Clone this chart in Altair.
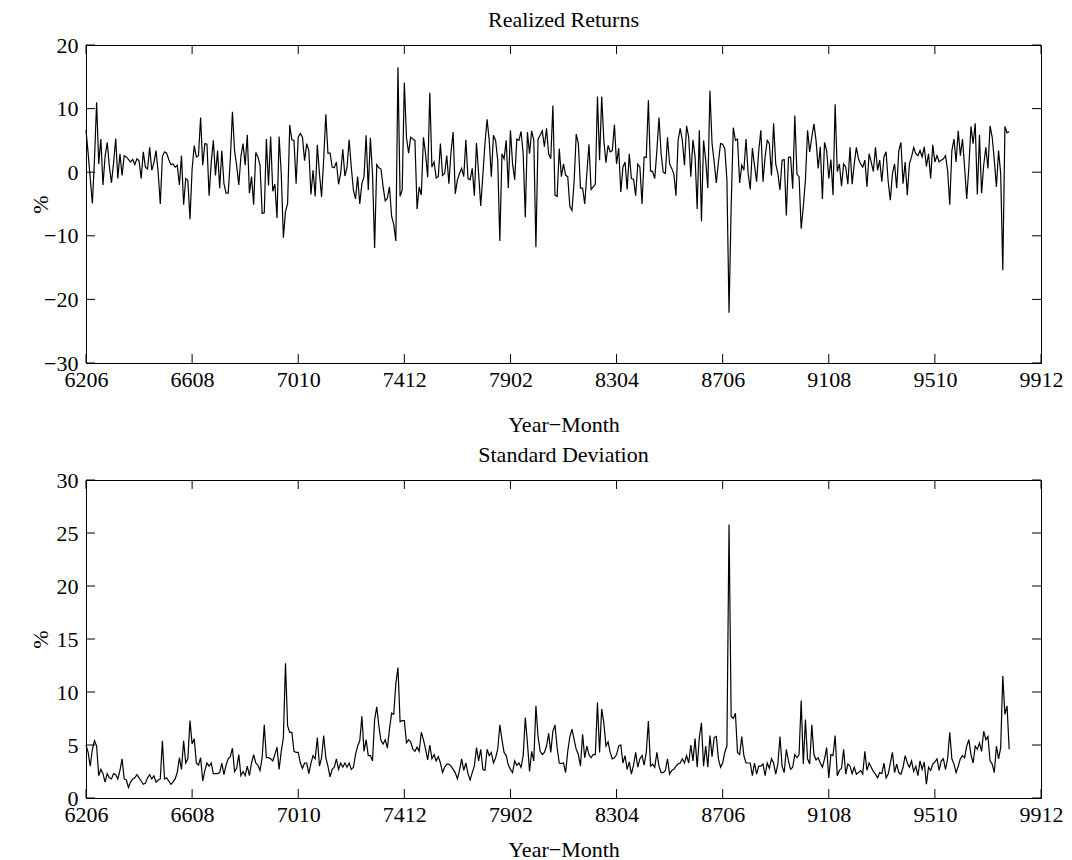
import altair as alt
import pandas as pd

tick_labels = ['6206', '6608', '7010', '7412', '7902', '8304', '8706', '9108', '9510', '9912']
tick_pos = [0, 50, 100, 150, 200, 250, 300, 350, 400, 450]

returns = [
    6.6, 3.0, -1.0, -4.9, 2.0, 11.0, 1.3, 5.2, -2.0, 2.5,
    4.7, 1.0, -1.7, 1.5, 5.3, -1.0, 2.9, -0.5, 2.6, 2.4,
    2.0, 1.6, 2.0, 1.2, 2.1, 1.8, -1.0, 3.2, 0.8, 0.5,
    3.9, 0.3, 1.5, 3.4, 0.0, -5.0, 2.5, 3.2, 3.0, 2.0,
    1.2, 1.3, 0.8, 1.1, -2.0, 2.6, -5.1, -1.0, -1.3, -7.4,
    0.5, 4.2, 2.4, 2.6, 8.6, 1.1, 4.5, 4.4, -3.7, 1.5,
    5.0, -0.5, 3.4, -2.5, 3.4, -1.8, -3.3, -3.3, 2.0, 9.5,
    3.4, 1.0, -2.0, 2.5, 4.5, 1.1, 5.9, -3.3, -0.7, -5.1,
    3.1, 2.4, 1.1, -6.5, -6.4, 5.2, -2.1, 5.6, -3.0, -1.9,
    -7.2, 5.6, -0.2, -10.3, -6.2, -4.9, 7.4, 5.1, 5.0, -1.8,
    5.5, 6.1, 5.5, 1.8, 4.5, 3.4, -3.5, 0.3, -3.8, 4.3,
    -0.2, -3.9, 2.0, 9.1, 3.0, 3.0, 0.8, 0.7, 1.6, -1.9,
    -0.2, 3.6, -0.6, 0.8, 5.1, 0.8, -2.8, -4.2, -0.7, -5.0,
    -1.8, -0.7, 5.8, -2.8, 5.4, -0.2, -11.9, 1.2, 0.7, 0.5,
    -2.3, -4.5, -4.1, -2.3, -6.9, -8.2, -10.8, 16.5, -3.8, -2.8,
    14.1, 5.5, 3.0, 5.5, 5.2, 5.0, -5.8, -2.3, -3.6, 5.5,
    2.9, -0.8, 12.5, 0.8, 1.6, -0.9, -0.7, 4.5, -0.5, -0.2,
    2.6, -1.8, 3.2, 6.3, -3.4, -1.2, -0.2, 0.6, -0.7, 5.1,
    -1.0, -1.2, 0.6, -3.7, 4.6, -0.2, -5.3, -0.5, 4.5, 8.3,
    5.0, -0.7, 5.8, 5.0, 1.9, -10.8, 2.9, 2.1, 5.0, -2.5,
    6.6, 1.3, -1.2, 5.2, 5.0, 6.4, 2.9, -7.1, 6.3, 2.9,
    6.5, 5.0, -11.8, 5.2, 5.8, 6.5, 4.0, 6.9, 2.9, 2.1,
    10.5, -3.6, -3.8, 3.7, -0.7, 1.3, -0.5, -0.7, -5.4, -6.0,
    -1.5, 6.0, 4.5, -2.5, -2.5, -5.0, -0.2, 4.4, -2.7, -2.3,
    -1.9, 11.9, 1.9, 11.9, 5.0, 1.5, 4.2, 3.2, 3.4, 7.5,
    1.3, 3.8, -3.1, 0.8, 1.6, -2.7, 2.9, -1.0, -1.1, -3.7,
    1.3, 0.8, -5.0, 2.4, 2.3, 11.3, 0.2, 0.1, -1.0, 3.4,
    8.6, 2.9, 0.0, -0.2, 5.5, 1.3, 0.6, -0.3, -3.7, 5.0,
    6.9, 5.0, 1.1, 7.3, 5.5, -0.7, 5.1, 2.4, -5.8, 6.6,
    -7.7, 5.0, 1.9, -2.5, 12.8, 4.5, 1.6, -1.7, 1.6, 4.5,
    4.4, 3.7, -1.2, -22.1, -5.5, 7.0, 5.0, 5.2, -1.7, 1.1,
    0.3, 5.2, -0.2, -2.7, 3.8, 1.1, -1.5, 3.4, 6.6, -1.5,
    2.4, 5.0, 4.5, -0.5, 7.7, 1.3, -0.2, -2.8, 1.9, 2.0,
    -6.8, 2.3, 2.4, -2.6, 8.9, -0.3, -0.7, -8.9, -5.4, -1.2,
    6.6, 3.2, 5.5, 7.6, 5.0, 0.6, 4.0, -4.2, 4.7, 3.4,
    -1.0, 2.0, -3.6, 10.7, 0.1, 1.3, -2.2, 1.3, 0.8, -1.9,
    3.9, -1.9, 1.3, 3.9, 2.1, 1.3, 0.8, 1.9, -2.3, 2.9,
    1.6, 0.1, 3.9, 0.3, 1.9, -1.5, 2.4, 3.2, -1.5, -4.4,
    -0.2, 1.3, -2.5, 3.4, 4.7, -1.8, 1.6, -3.6, 1.3, 2.4,
    3.9, 2.9, 2.6, 3.4, 2.4, 4.0, 0.9, 2.9, -1.0, 4.3,
    1.6, 2.6, 1.6, 1.9, 2.1, 2.6, 0.3, -5.1, 3.4, 5.2,
    1.6, 6.5, 2.6, 5.2, 0.8, -4.2, 0.8, 7.2, 4.5, 7.7,
    -3.5, 5.9, -3.3, 1.1, 3.9, 0.6, 7.3, 5.5, 1.9, -2.3,
    3.4, -0.2, -15.4, 7.2, 6.2, 6.4,
]

stdev = [
    5.0, 4.3, 3.0, 4.6, 5.4, 4.9, 2.1, 2.7, 2.3, 1.5,
    2.3, 1.9, 1.8, 2.3, 2.2, 1.8, 2.6, 3.7, 1.8, 1.7,
    1.0, 1.5, 1.8, 1.9, 2.2, 1.9, 1.6, 1.3, 1.4, 1.9,
    2.2, 1.8, 2.1, 1.5, 1.7, 1.8, 5.4, 1.8, 1.9, 1.6,
    1.3, 1.5, 1.8, 2.4, 3.8, 2.7, 5.4, 3.3, 3.7, 7.3,
    5.1, 5.6, 3.3, 3.1, 3.8, 1.6, 2.6, 3.3, 3.0, 3.3,
    2.3, 2.3, 2.3, 2.4, 3.3, 2.2, 3.1, 3.7, 3.9, 4.7,
    2.5, 2.8, 4.1, 2.1, 2.5, 2.1, 3.0, 2.1, 3.3, 4.1,
    3.3, 3.1, 2.6, 3.8, 6.9, 3.8, 3.8, 3.7, 3.5, 4.1,
    4.8, 2.7, 4.4, 5.7, 12.7, 6.8, 6.2, 6.2, 4.4, 4.3,
    4.3, 3.3, 2.8, 3.3, 3.3, 2.3, 3.3, 4.0, 3.7, 5.7,
    3.0, 3.8, 5.9, 3.8, 3.0, 2.0, 2.7, 2.9, 3.7, 2.7,
    3.3, 2.9, 3.3, 2.9, 3.3, 2.7, 2.9, 4.1, 4.9, 5.4,
    7.7, 4.4, 5.5, 4.0, 4.0, 3.5, 7.4, 8.6, 6.8, 5.4,
    5.1, 5.5, 4.7, 6.5, 8.0, 7.9, 10.8, 12.3, 7.2, 7.3,
    7.3, 5.2, 5.5, 5.3, 4.6, 4.4, 4.8, 4.4, 6.2, 5.5,
    4.6, 3.6, 5.0, 3.7, 4.1, 3.5, 3.9, 3.3, 2.4, 2.9,
    3.2, 3.2, 3.0, 2.7, 2.4, 1.8, 2.6, 3.7, 2.6, 3.3,
    2.3, 1.7, 2.4, 3.0, 4.75, 3.5, 4.6, 2.7, 2.6, 4.6,
    4.0, 4.3, 3.3, 3.8, 4.6, 6.9, 5.5, 4.3, 4.0, 3.1,
    2.7, 2.4, 3.5, 3.1, 3.3, 2.9, 4.0, 7.6, 5.2, 2.5,
    4.4, 3.5, 8.7, 5.8, 4.4, 4.1, 4.3, 4.9, 6.1, 4.3,
    6.3, 6.9, 4.75, 3.3, 3.25, 3.3, 2.4, 4.4, 5.8, 6.5,
    5.5, 4.6, 4.1, 3.0, 6.0, 3.8, 4.9, 4.1, 3.8, 4.1,
    4.1, 9.0, 4.3, 8.4, 7.1, 4.9, 5.3, 4.3, 3.7, 3.8,
    4.1, 4.9, 5.0, 3.3, 4.0, 2.7, 3.4, 2.25, 3.1, 4.3,
    2.9, 3.7, 4.0, 3.1, 4.3, 7.25, 3.0, 3.2, 2.9, 4.3,
    3.0, 2.4, 2.4, 2.6, 3.7, 2.25, 2.6, 2.7, 3.0, 3.2,
    3.3, 3.7, 3.3, 4.0, 3.3, 5.0, 3.5, 5.6, 2.9, 5.7,
    7.1, 3.0, 4.9, 2.9, 5.9, 3.9, 5.7, 5.8, 3.7, 2.9,
    3.3, 4.3, 4.9, 25.8, 7.7, 7.5, 8.0, 4.3, 4.1, 5.8,
    4.0, 3.3, 3.3, 3.3, 2.1, 3.3, 2.25, 3.0, 3.0, 3.2,
    2.1, 3.3, 2.8, 3.7, 3.3, 2.25, 3.2, 5.8, 3.0, 2.4,
    4.6, 3.5, 2.7, 2.9, 4.1, 3.8, 4.1, 9.2, 3.2, 7.4,
    3.7, 3.2, 6.9, 4.1, 3.6, 3.8, 3.3, 2.9, 3.7, 4.75,
    1.9, 4.1, 4.0, 5.9, 2.1, 2.6, 2.8, 4.6, 2.25, 3.2,
    3.0, 2.3, 2.9, 2.25, 2.4, 2.6, 2.25, 4.4, 2.6, 3.3,
    2.9, 2.5, 2.25, 1.9, 2.4, 2.3, 3.3, 1.9, 2.25, 3.3,
    4.3, 2.4, 3.2, 2.4, 2.25, 2.9, 4.0, 3.3, 2.9, 3.5,
    2.5, 3.0, 2.1, 3.5, 2.7, 3.4, 1.3, 2.9, 2.6, 3.2,
    3.4, 3.7, 2.6, 3.5, 3.7, 2.7, 3.7, 6.2, 3.7, 3.2,
    2.4, 3.0, 3.7, 4.0, 3.8, 4.9, 5.5, 4.1, 3.3, 4.9,
    4.6, 5.2, 4.4, 6.3, 5.5, 5.8, 3.5, 3.2, 2.4, 4.9,
    3.7, 4.75, 11.5, 7.9, 8.7, 4.6,
]

W, H = 955, 318
TICK = 9
FONT = 'Liberation Serif'
FS = 22

label_expr = "[" + ",".join("'%s'" % s for s in tick_labels) + "][round(datum.value/50)]"


def panel(values, title, ydom, yticks, title_offset, xtitle_pad):
    df = pd.DataFrame({'t': list(range(len(values))), 'v': values})
    xs = alt.Scale(domain=[0, 450], nice=False, zero=False)
    ys = alt.Scale(domain=ydom, nice=False, zero=False)
    line = alt.Chart(df).mark_line(color='black', strokeWidth=1.2).encode(
        x=alt.X('t:Q', scale=xs, axis=alt.Axis(
            values=tick_pos, labelExpr=label_expr, ticks=False, domain=False, grid=False,
            title='Year\u2212Month', labelPadding=6, titlePadding=xtitle_pad,
            labelFont=FONT, titleFont=FONT, labelFontSize=FS, titleFontSize=FS,
            titleFontWeight='normal', labelColor='black', titleColor='black',
            labelOverlap=False, labelFlush=False)),
        y=alt.Y('v:Q', scale=ys, axis=alt.Axis(
            values=yticks, ticks=False, domain=False, grid=False, title='%',
            labelPadding=8, titleX=-34, labelFont=FONT, titleFont=FONT,
            labelFontSize=FS, titleFontSize=FS, titleFontWeight='normal',
            labelColor='black', titleColor='black', labelOverlap=False, labelFlush=False)),
    )
    xt = pd.DataFrame({'t': tick_pos})
    yt = pd.DataFrame({'v': yticks})
    xb = alt.Chart(xt).mark_rule(color='black', strokeWidth=1).encode(
        x=alt.X('t:Q', scale=xs), y=alt.value(H), y2=alt.value(H - TICK))
    xtp = alt.Chart(xt).mark_rule(color='black', strokeWidth=1).encode(
        x=alt.X('t:Q', scale=xs), y=alt.value(0), y2=alt.value(TICK))
    yl = alt.Chart(yt).mark_rule(color='black', strokeWidth=1).encode(
        y=alt.Y('v:Q', scale=ys), x=alt.value(0), x2=alt.value(TICK))
    yr = alt.Chart(yt).mark_rule(color='black', strokeWidth=1).encode(
        y=alt.Y('v:Q', scale=ys), x=alt.value(W - TICK), x2=alt.value(W))
    return alt.layer(line, xb, xtp, yl, yr).properties(
        width=W, height=H,
        title=alt.TitleParams(title, font=FONT, fontSize=FS, fontWeight='normal',
                              color='black', anchor='middle', frame='group',
                              offset=title_offset))


top = panel(returns, 'Realized Returns', [-30, 20], [-30, -20, -10, 0, 10, 20], 2, 24)
bottom = panel(stdev, 'Standard Deviation', [0, 30], [0, 5, 10, 15, 20, 25, 30], 2, 14)

chart = alt.vconcat(top, bottom, spacing=7).properties(
    padding={'left': 20, 'top': 0, 'right': 0, 'bottom': 0}
).configure(background='white').configure_view(stroke='black', strokeWidth=1)

chart.save("out.html", embed_options={"renderer": "svg", "actions": False})
